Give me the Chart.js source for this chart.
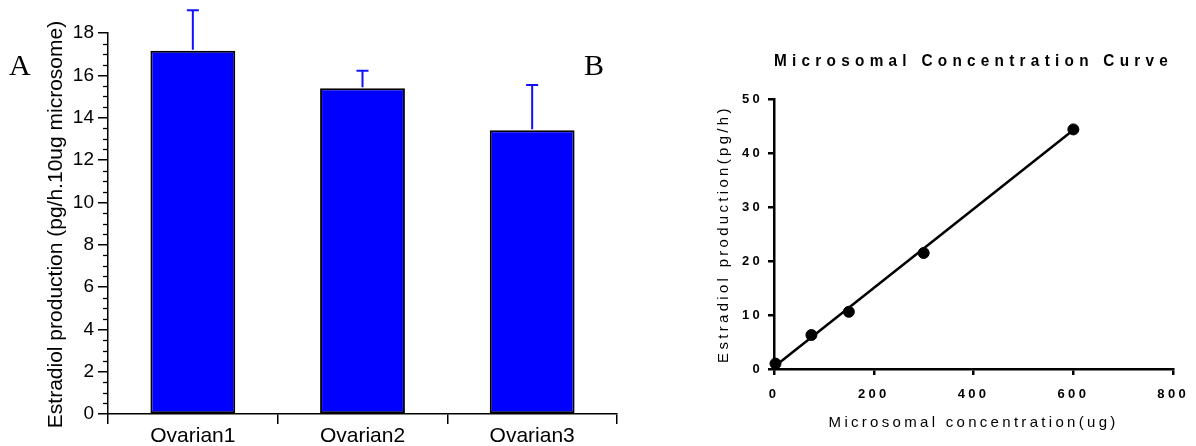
<!DOCTYPE html>
<html>
<head>
<meta charset="utf-8">
<script src="https://cdn.jsdelivr.net/npm/chart.js@4.4.1/dist/chart.umd.min.js"></script>
<style>
    html, body { margin: 0; padding: 0; background: #fff; }
    #wrap { position: relative; width: 1196px; height: 446px; overflow: hidden; background: #fff; }
    .panel { position: absolute; top: 0; }
    .panel canvas { display: block; }
    .tag { position: absolute; font-family: "Liberation Serif", "Times New Roman", serif; font-size: 30px; line-height: 1; color: #000; }
</style>
</head>
<body>
<div id="wrap">
    <div class="panel" style="left:0"><canvas id="chartA" width="622" height="446"></canvas></div>
    <div class="panel" style="left:622px"><canvas id="chartB" width="574" height="446"></canvas></div>
    <div class="tag" style="left:9px;top:50px">A</div>
    <div class="tag" style="left:584px;top:50px">B</div>
</div>
<script>
// Panel A: bar chart with SD bars
var categories = ['Ovarian1', 'Ovarian2', 'Ovarian3'];
var estradiolMeans = [17.16, 15.39, 13.40];
var estradiolErrors = [1.91, 0.83, 2.14];
var yTitleA = 'Estradiol production (pg/h.10ug microsome)';

// Panel B: concentration curve
var concentrationUg = [3, 75, 150, 300, 600];
var productionPgH = [1.0, 6.3, 10.6, 21.5, 44.4];
var fitLineX = [3, 600];
var fitLineY = [0.6, 44.3];
var titleB = 'Microsomal Concentration Curve';
var xTitleB = 'Microsomal concentration(ug)';
var yTitleB = 'Estradiol production(pg/h)';

var FONT = '"Liberation Sans", Arial, Helvetica, sans-serif';
Chart.defaults.font.family = FONT;
Chart.defaults.color = '#000';

// error bars on top of each bar
var errorBarPlugin = {
    id: 'errorBars',
    afterDatasetsDraw: function (chart) {
        var ctx = chart.ctx;
        var y = chart.scales.y;
        var meta = chart.getDatasetMeta(0);
        ctx.save();
        ctx.strokeStyle = '#1010ff';
        ctx.lineWidth = 2;
        meta.data.forEach(function (bar, i) {
            var top = y.getPixelForValue(estradiolMeans[i] + estradiolErrors[i]);
            ctx.beginPath();
            ctx.moveTo(bar.x, bar.y - 1);
            ctx.lineTo(bar.x, top);
            ctx.moveTo(bar.x - 6, top);
            ctx.lineTo(bar.x + 6, top);
            ctx.stroke();
        });
        ctx.restore();
    }
};

// minor ticks + long rotated y title for panel A
var axisExtrasA = {
    id: 'axisExtrasA',
    afterDraw: function (chart) {
        var ctx = chart.ctx;
        var y = chart.scales.y;
        var x0 = chart.chartArea.left;
        ctx.save();
        ctx.strokeStyle = '#000';
        ctx.lineWidth = 1.3;
        for (var v = y.min; v <= y.max; v += 0.5) {
            if (v % 2 === 0) continue;
            var py = Math.round(y.getPixelForValue(v)) + 0.5;
            ctx.beginPath();
            ctx.moveTo(x0 - 5, py);
            ctx.lineTo(x0, py);
            ctx.stroke();
        }
        ctx.translate(56, (y.top + y.bottom) / 2 + 1);
        ctx.rotate(-Math.PI / 2);
        ctx.font = '21px ' + FONT;
        ctx.textAlign = 'center';
        ctx.textBaseline = 'middle';
        ctx.fillStyle = '#000';
        ctx.fillText(yTitleA, 0, 0);
        ctx.restore();
    }
};

// GraphPad style spaced-out lettering for panel B
var letterSpacingB = {
    id: 'letterSpacingB',
    beforeDraw: function (chart) {
        chart.ctx.letterSpacing = '3.3px';
        var tb = chart.titleBlock;
        if (tb && !tb._spaced) {
            var drawTitle = tb.draw.bind(tb);
            tb.draw = function (area) {
                var c = chart.ctx;
                var prev = c.letterSpacing;
                c.letterSpacing = '5.5px';
                drawTitle(area);
                c.letterSpacing = prev;
            };
            tb._spaced = true;
        }
    }
};

function initChartA() {
    var ctx = document.getElementById('chartA').getContext('2d');
    return new Chart(ctx, {
        type: 'bar',
        data: {
            labels: categories,
            datasets: [{
                data: estradiolMeans,
                backgroundColor: '#0000ff',
                borderColor: '#000',
                borderWidth: 2,
                borderSkipped: false,
                barPercentage: 0.5,
                categoryPercentage: 1
            }]
        },
        options: {
            responsive: false,
            animation: false,
            layout: { padding: { top: 33, right: 5, left: 0, bottom: 0 } },
            plugins: { legend: { display: false }, tooltip: { enabled: false } },
            scales: {
                x: {
                    grid: { drawOnChartArea: false, tickLength: 10, color: '#000', lineWidth: 1.5 },
                    border: { color: '#000', width: 1.5 },
                    ticks: { color: '#000', padding: 0, font: { size: 21 } },
                    afterFit: function (s) { s.height = 32; }
                },
                y: {
                    min: 0,
                    max: 18,
                    ticks: { stepSize: 2, color: '#000', padding: 4, font: { size: 19 } },
                    grid: { drawOnChartArea: false, tickLength: 10, color: '#000', lineWidth: 1.5 },
                    border: { color: '#000', width: 1.5 },
                    afterFit: function (s) { s.width = 108; }
                }
            }
        },
        plugins: [errorBarPlugin, axisExtrasA]
    });
}

function initChartB() {
    var points = concentrationUg.map(function (x, i) { return { x: x, y: productionPgH[i] }; });
    var fit = fitLineX.map(function (x, i) { return { x: x, y: fitLineY[i] }; });
    var ctx = document.getElementById('chartB').getContext('2d');
    return new Chart(ctx, {
        type: 'scatter',
        data: {
            datasets: [{
                data: points,
                pointRadius: 5.5,
                pointBackgroundColor: '#000',
                pointBorderColor: '#000',
                showLine: false,
                clip: false,
                order: 0
            }, {
                data: fit,
                showLine: true,
                borderColor: '#000',
                borderWidth: 2.5,
                pointRadius: 0,
                clip: false,
                order: 1
            }]
        },
        options: {
            responsive: false,
            animation: false,
            layout: { padding: { top: 0, right: 15, left: 0, bottom: 0 } },
            plugins: {
                legend: { display: false },
                tooltip: { enabled: false },
                title: {
                    display: true,
                    text: titleB,
                    fullSize: false,
                    color: '#000',
                    font: { size: 16, weight: 'bold', lineHeight: 1.2 },
                    padding: { top: 52, bottom: 28 }
                }
            },
            scales: {
                x: {
                    type: 'linear',
                    min: 0,
                    max: 800,
                    ticks: { stepSize: 200, color: '#000', padding: 12, font: { size: 13, weight: 'bold' } },
                    grid: { drawOnChartArea: false, tickLength: 6, color: '#000', lineWidth: 2.5 },
                    border: { color: '#000', width: 2.5 },
                    title: { display: true, text: xTitleB, color: '#000', font: { size: 15 }, padding: { top: 0, bottom: 14 } },
                    afterFit: function (s) { s.height = 77; }
                },
                y: {
                    min: 0,
                    max: 50,
                    ticks: { stepSize: 10, color: '#000', padding: 5, font: { size: 13, weight: 'bold' } },
                    grid: { drawOnChartArea: false, tickLength: 6, color: '#000', lineWidth: 2.5 },
                    border: { color: '#000', width: 2.5 },
                    title: { display: true, text: yTitleB, color: '#000', font: { size: 15 }, padding: { top: 93, bottom: 0 } },
                    afterFit: function (s) { s.width = 152; }
                }
            }
        },
        plugins: [letterSpacingB]
    });
}

initChartA();
initChartB();
</script>
</body>
</html>
